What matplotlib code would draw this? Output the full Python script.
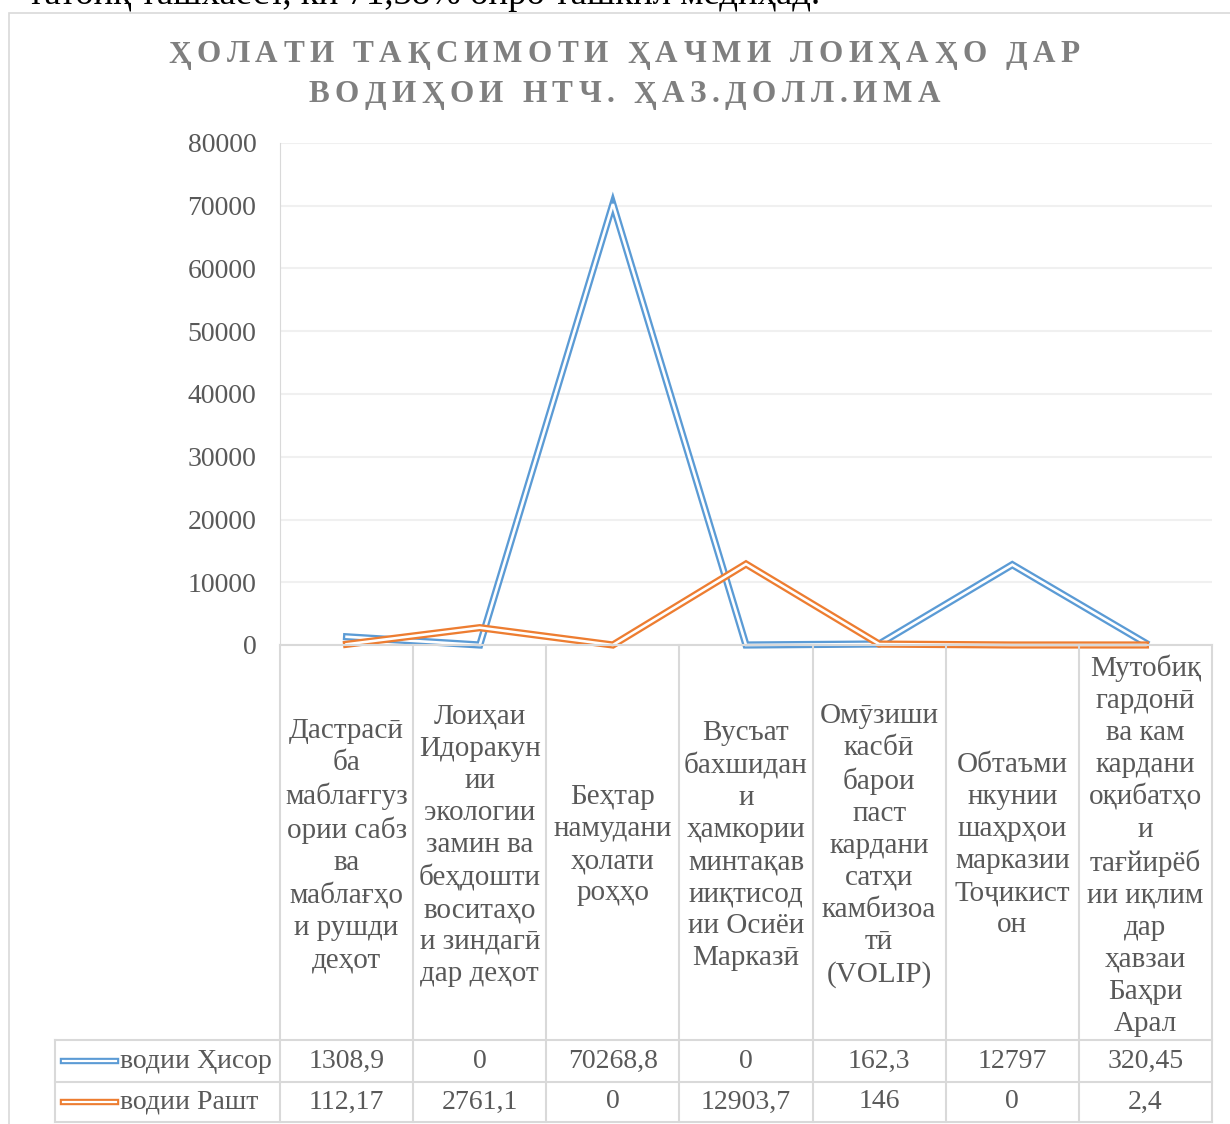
import numpy as np
import matplotlib
matplotlib.use("Agg")
from matplotlib import pyplot as plt
from matplotlib.patches import Rectangle
from matplotlib.lines import Line2D

W, H = 1230, 1124

categories = [
    "Дастрасӣ\nба\nмаблағгуз\nории сабз\nва\nмаблағҳо\nи рушди\nдеҳот",
    "Лоиҳаи\nИдоракун\nии\nэкологии\nзамин ва\nбеҳдошти\nвоситаҳо\nи зиндагӣ\nдар деҳот",
    "Беҳтар\nнамудани\nҳолати\nроҳҳо",
    "Вусъат\nбахшидан\nи\nҳамкории\nминтақав\nииқтисод\nии Осиёи\nМарказӣ",
    "Омӯзиши\nкасбӣ\nбарои\nпаст\nкардани\nсатҳи\nкамбизоа\nтӣ\n(VOLIP)",
    "Обтаъми\nнкунии\nшаҳрҳои\nмарказии\nТоҷикист\nон",
    "Мутобиқ\nгардонӣ\nва кам\nкардани\nоқибатҳо\nи\nтағйирёб\nии иқлим\nдар\nҳавзаи\nБаҳри\nАрал",
]
hisor = [1308.9, 0, 70268.8, 0, 162.3, 12797, 320.45]
rasht = [112.17, 2761.1, 0, 12903.7, 146, 0, 2.4]
series_names = ["водии Ҳисор", "водии Рашт"]
colors = ["#5B9BD5", "#ED7D31"]
yticks = [0, 10000, 20000, 30000, 40000, 50000, 60000, 70000, 80000]

title_lines = ["ҲОЛАТИ ТАҚСИМОТИ ҲАЧМИ ЛОИҲАҲО ДАР", "ВОДИҲОИ НТЧ. ҲАЗ.ДОЛЛ.ИМА"]
top_text = "татоиқ ташхаест, ки 71,38% онро ташкил медиҳад."

serif = ["Liberation Serif", "DejaVu Serif"]
txt_col = "#595959"
grid_col = "#d9d9d9"


def fx(x):
    return x / W


def fy(y):
    return 1 - y / H


fig = plt.figure(figsize=(W / 100, H / 100), dpi=100)

# chart frame (right / bottom edge run off the page)
fig.patches.append(Rectangle((fx(9), fy(1140)), fx(1240 - 9), (1140 - 13) / H,
                             transform=fig.transFigure, fill=False,
                             edgecolor=grid_col, lw=1.2))

# cut text of the document above the chart
fig.text(fx(28), fy(4), top_text, family=serif, fontsize=26.5, color="black",
         ha="left", va="baseline")

# title with letter spacing
renderer = fig.canvas.get_renderer()


def spaced_text(s, xc, yc, spacing, **kw):
    widths = []
    for ch in s:
        t = fig.text(0, 0, ch, **kw)
        widths.append(t.get_window_extent(renderer).width)
        t.remove()
    total = sum(widths) + spacing * (len(s) - 1)
    x = xc - total / 2
    for ch, w in zip(s, widths):
        fig.text(fx(x), fy(yc), ch, ha="left", va="center", **kw)
        x += w + spacing


for i, line in enumerate(title_lines):
    spaced_text(line, 624, 55 + i * 40, 5.5, family=serif, fontsize=22.5,
                fontweight="bold", color="#7f7f7f")

# plot area
x0, x1, ytop, ybot = 280, 1212, 143, 645
ax = fig.add_axes([fx(x0), fy(ybot), fx(x1 - x0), (ybot - ytop) / H])
ax.set_xlim(0, len(categories))
ax.set_ylim(0, 80000)
for sp in ["top", "right", "bottom"]:
    ax.spines[sp].set_visible(False)
ax.spines["left"].set_color(grid_col)
ax.set_xticks([])
ax.set_yticks(yticks)
ax.set_yticklabels([str(v) for v in yticks], family=serif, fontsize=20, color=txt_col)
ax.tick_params(axis="y", length=0, pad=17)
ax.grid(axis="y", color="#f0f0f0", lw=1.5)
ax.set_axisbelow(True)
ax.patch.set_alpha(0)

xs = np.arange(len(categories)) + 0.5
for vals, c in zip([hisor, rasht], colors):
    ax.plot(xs, vals, color=c, lw=5.2, solid_joinstyle="miter", clip_on=False, zorder=3)
    ax.plot(xs, vals, color="white", lw=1.9, solid_joinstyle="miter", clip_on=False, zorder=3)

# data table
col_w = (x1 - x0) / len(categories)
row1, row2, row3 = 1040, 1082, 1122
leg_x = 55
lw_tab = 1.5


def hline(y, xa, xb):
    fig.add_artist(Line2D([fx(xa), fx(xb)], [fy(y), fy(y)], transform=fig.transFigure,
                          color=grid_col, lw=lw_tab, zorder=1))


def vline(x, ya, yb):
    fig.add_artist(Line2D([fx(x), fx(x)], [fy(ya), fy(yb)], transform=fig.transFigure,
                          color=grid_col, lw=lw_tab, zorder=1))


hline(ybot, x0, x1)
hline(row1, leg_x, x1)
hline(row2, leg_x, x1)
hline(row3, leg_x, x1)
for i in range(len(categories) + 1):
    vline(x0 + i * col_w, ybot, row3)
vline(leg_x, row1, row3)

for i, lab in enumerate(categories):
    fig.text(fx(x0 + (i + 0.5) * col_w), fy((ybot + row1) / 2 + 3), lab,
             family=serif, fontsize=21, color=txt_col, ha="center", va="center",
             multialignment="center", linespacing=1.3)

for r, (name, vals, c) in enumerate(zip(series_names, [hisor, rasht], colors)):
    yc = (row1 + row2) / 2 if r == 0 else (row2 + row3) / 2
    for i, v in enumerate(vals):
        fig.text(fx(x0 + (i + 0.5) * col_w), fy(yc), f"{v:g}".replace(".", ","),
                 family=serif, fontsize=20, color=txt_col, ha="center", va="center")
    fig.add_artist(Line2D([fx(63), fx(116)], [fy(yc), fy(yc)], transform=fig.transFigure,
                          color=c, lw=4.6))
    fig.add_artist(Line2D([fx(63), fx(116)], [fy(yc), fy(yc)], transform=fig.transFigure,
                          color="white", lw=1.6))
    fig.text(fx(120), fy(yc), name, family=serif, fontsize=20, color=txt_col,
             ha="left", va="center")

fig.savefig("out.png", dpi=100)
